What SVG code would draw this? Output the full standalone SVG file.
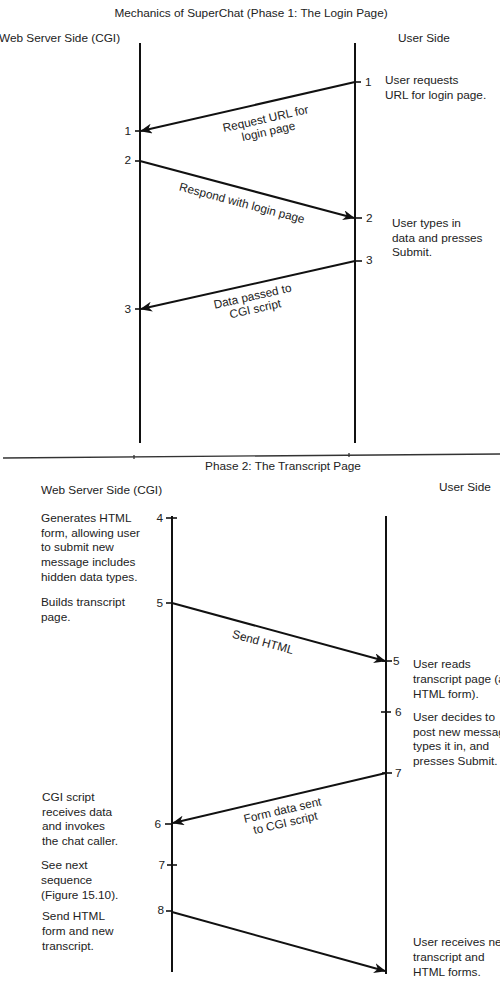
<svg xmlns="http://www.w3.org/2000/svg" width="500" height="1000" viewBox="0 0 500 1000">
<style>
text{font-family:"Liberation Sans",Arial,sans-serif;font-size:11.8px;fill:#222}
.life{stroke:#111;stroke-width:2;fill:none}
.msg{stroke:#111;stroke-width:2;fill:none;marker-end:url(#ah)}
.tick{stroke:#111;stroke-width:1.6}
.mid{text-anchor:middle}
.end{text-anchor:end}
</style>
<defs>
<marker id="ah" viewBox="0 0 12 10" refX="11" refY="5" markerWidth="12" markerHeight="10" markerUnits="userSpaceOnUse" orient="auto">
<path d="M0,0 L12,5 L0,10 L3.5,5 z" fill="#111"/>
</marker>
</defs>
<rect width="500" height="1000" fill="#fff"/>

<g id="phase1-title"><text class="mid" x="251" y="16.5">Mechanics of SuperChat (Phase 1: The Login Page)</text></g>
<g id="p1-server"><text x="-1" y="42">Web Server Side (CGI)</text><line class="life" x1="140" y1="43" x2="140" y2="443"/></g>
<g id="p1-user"><text x="398" y="42">User Side</text><line class="life" x1="355" y1="43" x2="355" y2="443"/></g>

<g id="p1-notes">
<text x="385" y="84">User requests</text>
<text x="385" y="99">URL for login page.</text>
<text x="392" y="227">User types in</text>
<text x="392" y="242">data and presses</text>
<text x="392" y="256">Submit.</text>
</g>

<g id="p1-numbers">
<line class="tick" x1="355" y1="82" x2="361" y2="82"/><text x="365" y="86">1</text>
<line class="tick" x1="135" y1="131" x2="140" y2="131"/><text class="end" x="131" y="135">1</text>
<line class="tick" x1="135" y1="161" x2="140" y2="161"/><text class="end" x="131" y="164">2</text>
<line class="tick" x1="355" y1="218" x2="362" y2="218"/><text x="366" y="222">2</text>
<line class="tick" x1="355" y1="261" x2="362" y2="261"/><text x="366" y="264">3</text>
<line class="tick" x1="135" y1="309" x2="140" y2="309"/><text class="end" x="131" y="313">3</text>
</g>

<g id="connectors">
<line class="msg" x1="355" y1="82" x2="141" y2="131"/>
<line class="msg" x1="140" y1="161" x2="354" y2="218"/>
<line class="msg" x1="355" y1="261" x2="141" y2="309"/>
<line class="msg" x1="172" y1="603" x2="385" y2="661"/>
<line class="msg" x1="386" y1="773" x2="173" y2="823"/>
<line class="msg" x1="172" y1="912" x2="385" y2="971"/>
</g>

<g id="p1-labels">
<g transform="translate(267,125) rotate(-12.6)"><text class="mid" x="0" y="-2.5">Request URL for</text><text class="mid" x="0" y="10.5">login page</text></g>
<g transform="translate(242,203) rotate(14.8)"><text class="mid" x="0" y="4">Respond with login page</text></g>
<g transform="translate(254,303) rotate(-12.6)"><text class="mid" x="0" y="-3">Data passed to</text><text class="mid" x="0" y="10">CGI script</text></g>
</g>

<g id="divider">
<line x1="3" y1="458" x2="500" y2="454" stroke="#333" stroke-width="1.3"/>
<line x1="134" y1="455" x2="134" y2="459" stroke="#333" stroke-width="1.3"/>
<line x1="349" y1="453" x2="349" y2="457" stroke="#333" stroke-width="1.3"/>
</g>

<g id="phase2-title"><text class="mid" x="283" y="470">Phase 2: The Transcript Page</text></g>
<g id="p2-server"><text x="41" y="494">Web Server Side (CGI)</text><line class="life" x1="172" y1="516" x2="172" y2="972"/></g>
<g id="p2-user"><text x="439" y="491">User Side</text><line class="life" x1="386" y1="516" x2="386" y2="974"/></g>

<g id="p2-left-notes">
<text x="41" y="522">Generates HTML</text>
<text x="41" y="537">form, allowing user</text>
<text x="41" y="551">to submit new</text>
<text x="41" y="566">message includes</text>
<text x="41" y="581">hidden data types.</text>
<text x="41" y="606">Builds transcript</text>
<text x="41" y="621">page.</text>
<text x="42" y="801">CGI script</text>
<text x="42" y="816">receives data</text>
<text x="42" y="830">and invokes</text>
<text x="42" y="845">the chat caller.</text>
<text x="41" y="869">See next</text>
<text x="41" y="884">sequence</text>
<text x="41" y="899">(Figure 15.10).</text>
<text x="42" y="920">Send HTML</text>
<text x="42" y="935">form and new</text>
<text x="42" y="950">transcript.</text>
</g>

<g id="p2-right-notes">
<text x="413" y="668">User reads</text>
<text x="413" y="683">transcript page (a</text>
<text x="413" y="698">HTML form).</text>
<text x="413" y="721">User decides to</text>
<text x="413" y="736">post new message,</text>
<text x="413" y="750">types it in, and</text>
<text x="413" y="765">presses Submit.</text>
<text x="413" y="946">User receives new</text>
<text x="413" y="961">transcript and</text>
<text x="413" y="976">HTML forms.</text>
</g>

<g id="p2-numbers">
<line class="tick" x1="166" y1="518" x2="177" y2="518"/><text class="end" x="163" y="522">4</text>
<line class="tick" x1="166" y1="603" x2="172" y2="603"/><text class="end" x="163" y="607">5</text>
<line class="tick" x1="165" y1="824" x2="172" y2="824"/><text class="end" x="161" y="828">6</text>
<line class="tick" x1="167" y1="865" x2="177" y2="865"/><text class="end" x="165" y="869">7</text>
<line class="tick" x1="166" y1="911" x2="172" y2="911"/><text class="end" x="164" y="914">8</text>
<line class="tick" x1="382" y1="661" x2="392" y2="661"/><text x="393" y="665">5</text>
<line class="tick" x1="381" y1="712" x2="391" y2="712"/><text x="395" y="716">6</text>
<line class="tick" x1="382" y1="773" x2="392" y2="773"/><text x="395" y="777">7</text>
</g>

<g id="p2-labels">
<g transform="translate(263,642) rotate(15.2)"><text class="mid" x="0" y="4">Send HTML</text></g>
<g transform="translate(284,817) rotate(-13)"><text class="mid" x="0" y="-3">Form data sent</text><text class="mid" x="0" y="10">to CGI script</text></g>
</g>
</svg>
